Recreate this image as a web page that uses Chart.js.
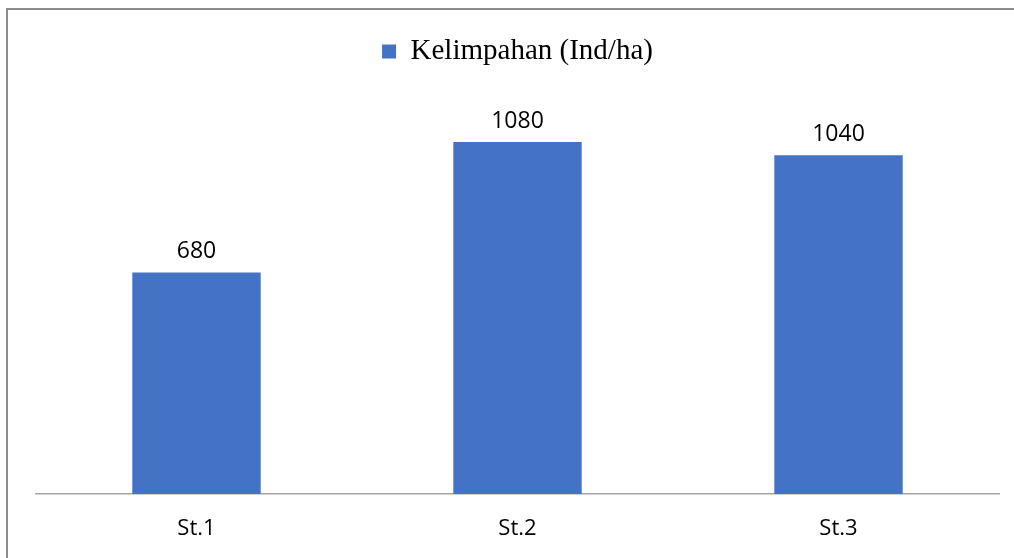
<!DOCTYPE html>
<html>
<head>
<title>Kelimpahan</title>
<script src="https://cdn.jsdelivr.net/npm/chart.js@4/dist/chart.umd.min.js"></script>
<style>
  body {margin: 0; background: #fff;}
  .frame {
    position: absolute;
    left: 6px;
    top: 8px;
    width: 1100px;
    height: 700px;
    border-left: 2px solid #8c8c8c;
    border-top: 2px solid #8c8c8c;
  }
  .chart {position: absolute; left: 0; top: 0; width: 1014px; height: 558px;}
</style>
</head>
<body>

<div class="frame"></div>
<div class="chart">
 <canvas id="kelimpahan" width="1014" height="558"></canvas>
</div>

<script>

var stations = ['St.1', 'St.2', 'St.3'];
var kelimpahan = [680, 1080, 1040];
var seriesName = 'Kelimpahan (Ind/ha)';

//writes the value above each bar, using the bar positions chart.js computed
var valueLabels = {
  id: 'valueLabels',
  afterDatasetsDraw: function(chart) {
    var ctx = chart.ctx;
    var meta = chart.getDatasetMeta(0);
    ctx.save();
    ctx.font = '23px "Open Sans"';
    ctx.fillStyle = '#000';
    ctx.textAlign = 'center';
    ctx.textBaseline = 'alphabetic';
    meta.data.forEach(function(bar, i) {
      ctx.fillText(chart.data.datasets[0].data[i], bar.x, bar.y - 14);
    });
    ctx.restore();
  }
};

//leaves some extra room between the legend and the bars
var legendGap = {
  id: 'legendGap',
  beforeInit: function(chart) {
    var origFit = chart.legend.fit;
    chart.legend.fit = function() {
      origFit.bind(chart.legend)();
      this.height += 27;
    };
  }
};

new Chart(document.getElementById('kelimpahan'), {
  type: 'bar',
  data: {
    labels: stations,
    datasets: [{
      label: seriesName,
      data: kelimpahan,
      backgroundColor: '#4472C4',
      borderWidth: 0,
      barPercentage: 0.4,
      categoryPercentage: 1
    }]
  },
  options: {
    responsive: false,
    animation: false,
    layout: {
      padding: {left: 36, right: 15, top: 0, bottom: 16}
    },
    plugins: {
      legend: {
        position: 'top',
        labels: {
          boxWidth: 14,
          boxHeight: 14,
          padding: 37,
          color: '#000',
          font: {family: '"Liberation Serif", "Times New Roman", serif', size: 29}
        }
      },
      tooltip: {enabled: false}
    },
    scales: {
      x: {
        grid: {display: false, drawTicks: false},
        border: {display: true, color: '#a6a6a6', width: 1.5},
        ticks: {
          padding: 22,
          color: '#000',
          font: {family: '"Open Sans"', size: 22}
        },
        afterFit: function(scale) {
          scale.height = 48;
        }
      },
      y: {
        display: false,
        min: 0,
        max: 1200
      }
    }
  },
  plugins: [valueLabels, legendGap]
});

</script>

</body>
</html>
